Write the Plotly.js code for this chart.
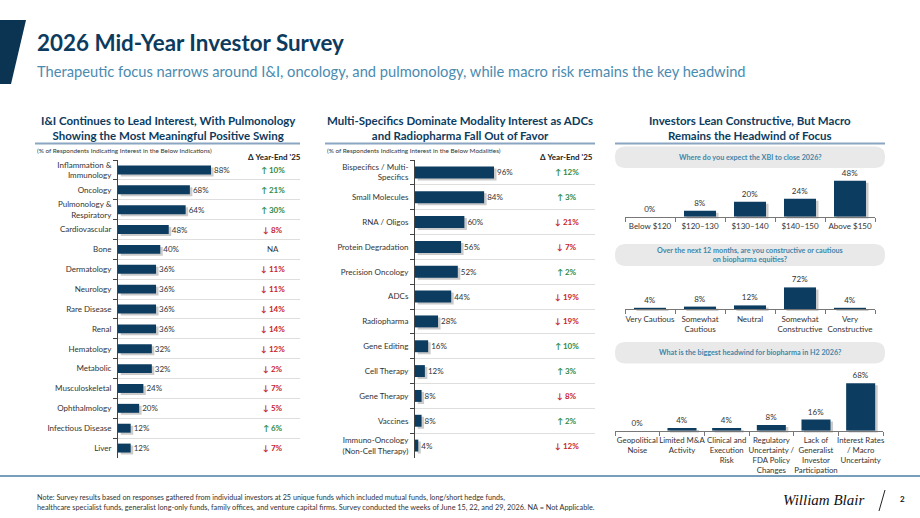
<!DOCTYPE html>
<html>
<head>
<meta charset="utf-8">
<script src="https://cdn.plot.ly/plotly-3.0.1.min.js"></script>
<style>html,body{margin:0;padding:0;background:#fff;}#chart{width:920px;height:518px;}</style>
</head>
<body>
<div id="chart"></div>
<script>
// ---------- DATA ----------
const indications = ["Inflammation &<br>Immunology","Oncology","Pulmonology &<br>Respiratory","Cardiovascular","Bone","Dermatology","Neurology","Rare Disease","Renal","Hematology","Metabolic","Musculoskeletal","Ophthalmology","Infectious Disease","Liver"];
const indicationValues = [88,68,64,48,40,36,36,36,36,32,32,24,20,12,12];
const indicationDelta = [10,21,30,-8,null,-11,-11,-14,-14,-12,-2,-7,-5,6,-7];

const modalities = ["Bispecifics / Multi-<br>Specifics","Small Molecules","RNA / Oligos","Protein Degradation","Precision Oncology","ADCs","Radiopharma","Gene Editing","Cell Therapy","Gene Therapy","Vaccines","Immuno-Oncology<br>(Non-Cell Therapy)"];
const modalityValues = [96,84,60,56,52,44,28,16,12,8,8,4];
const modalityDelta = [12,3,-21,-7,2,-19,-19,10,3,-8,2,-12];

const xbiLabels = ["Below $120","$120–130","$130–140","$140–150","Above $150"];
const xbiValues = [0,8,20,24,48];

const sentimentLabels = ["Very Cautious","Somewhat<br>Cautious","Neutral","Somewhat<br>Constructive","Very<br>Constructive"];
const sentimentValues = [4,8,12,72,4];

const headwindLabels = ["Geopolitical<br>Noise","Limited M&A<br>Activity","Clinical and<br>Execution<br>Risk","Regulatory<br>Uncertainty /<br>FDA Policy<br>Changes","Lack of<br>Generalist<br>Investor<br>Participation","Interest Rates<br>/ Macro<br>Uncertainty"];
const headwindValues = [0,4,4,8,16,68];

// ---------- HELPERS ----------
const W = 920, H = 518;
const X = px => px / W;
const Y = py => 1 - py / H;
const NAVY = "#0c3c5f", SHADOW = "rgba(140,140,140,0.45)";
const GREEN = "#2f8a45", RED = "#c8242b";
const FONT = "Lato, 'Open Sans', sans-serif";

function hbar(cats, vals, xa, ya, shadow) {
  return {type:"bar", orientation:"h", y:cats, x:vals, xaxis:xa, yaxis:ya,
    marker:{color: shadow ? SHADOW : NAVY},
    text: shadow ? undefined : vals.map(v => v + "%"),
    textposition: shadow ? "none" : "outside", constraintext:"none", cliponaxis:false,
    textfont:{size:8, color:"#333", family:FONT}, hoverinfo:"skip", showlegend:false};
}
function vbar(cats, vals, xa, ya, shadow) {
  return {type:"bar", x:cats, y:vals, xaxis:xa, yaxis:ya,
    marker:{color: shadow ? SHADOW : NAVY},
    text: shadow ? undefined : vals.map(v => v + "%"),
    textposition: shadow ? "none" : "outside", constraintext:"none", cliponaxis:false,
    textfont:{size:8, color:"#333", family:FONT}, hoverinfo:"skip", showlegend:false};
}

const data = [
  hbar(indications, indicationValues, "x", "y", true),
  hbar(modalities, modalityValues, "x2", "y2", true),
  vbar(xbiLabels, xbiValues, "x3", "y3", true),
  vbar(sentimentLabels, sentimentValues, "x4", "y4", true),
  vbar(headwindLabels, headwindValues, "x5", "y5", true),
  hbar(indications, indicationValues, "x6", "y6", false),
  hbar(modalities, modalityValues, "x7", "y7", false),
  vbar(xbiLabels, xbiValues, "x8", "y8", false),
  vbar(sentimentLabels, sentimentValues, "x9", "y9", false),
  vbar(headwindLabels, headwindValues, "x10", "y10", false)
];

function hx(x0, x1, rng, anchor){ return {domain:[X(x0), X(x1)], range:rng, anchor:anchor, showgrid:false, zeroline:false, showticklabels:false, showline:false, fixedrange:true}; }
function hy(y0, y1, anchor){ return {domain:[Y(y1), Y(y0)], type:"category", autorange:"reversed", anchor:anchor,
  showline:true, linecolor:"#444", linewidth:1, ticks:"outside", ticklen:4, tickcolor:"#444", tickson:"boundaries",
  ticklabelstandoff:4,
  showgrid:true, gridcolor:"#dedede", gridwidth:1, zeroline:false, tickfont:{size:8, color:"#333", family:FONT}, fixedrange:true}; }
function vx(x0, x1, anchor, fs){ return {domain:[X(x0), X(x1)], type:"category", anchor:anchor, tickangle:0,
  showline:true, linecolor:"#777", linewidth:1, ticks:"outside", ticklen:4, tickcolor:"#777", tickson:"boundaries",
  ticklabelstandoff:2,
  showgrid:false, zeroline:false, tickfont:{size:fs || 8, color:"#333", family:FONT}, fixedrange:true}; }
function vy(yb, yt, rng, anchor){ return {domain:[Y(yb), Y(yt)], range:rng, anchor:anchor, visible:false, fixedrange:true}; }
function sh(ax, dx){
  const c = JSON.parse(JSON.stringify(ax));
  c.domain = [c.domain[0] + dx, c.domain[1] + dx];
  c.visible = false; c.showgrid = false;
  return c;
}
function shY(ax, dy){ const c = JSON.parse(JSON.stringify(ax)); c.domain=[c.domain[0]+dy, c.domain[1]+dy]; c.visible=false; c.showgrid=false; return c; }
const sdx = 2.5 / W, sdy = -2 / H;

const x6 = hx(118, 300, [0, 172.2], "y6"), y6 = hy(160, 458, "x6");
const x7 = hx(415, 595, [0, 218.7], "y7"), y7 = hy(160, 458, "x7");
const x8 = vx(625, 875, "y8"), y8 = vy(216.7, 172, [0, 59.6], "x8");
const x9 = vx(625, 875, "y9"), y9 = vy(309, 280, [0, 96.7], "x9");
const x10 = vx(615, 883, "y10", 7.8), y10 = vy(430.7, 374, [0, 81.3], "x10");

const layout = {
  width: W, height: H, margin:{l:0, r:0, t:0, b:0},
  paper_bgcolor:"#ffffff", plot_bgcolor:"rgba(0,0,0,0)",
  font:{family:FONT, color:"#333"},
  showlegend:false,
  xaxis: Object.assign(sh(x6, sdx), {anchor:"y"}), yaxis: Object.assign(shY(y6, sdy), {anchor:"x"}),
  xaxis2: Object.assign(sh(x7, sdx), {anchor:"y2"}), yaxis2: Object.assign(shY(y7, sdy), {anchor:"x2"}),
  xaxis3: Object.assign(sh(x8, sdx), {anchor:"y3"}), yaxis3: Object.assign(shY(y8, sdy), {anchor:"x3"}),
  xaxis4: Object.assign(sh(x9, sdx), {anchor:"y4"}), yaxis4: Object.assign(shY(y9, sdy), {anchor:"x4"}),
  xaxis5: Object.assign(sh(x10, sdx), {anchor:"y5"}), yaxis5: Object.assign(shY(y10, sdy), {anchor:"x5"}),
  xaxis6:x6, yaxis6:y6, xaxis7:x7, yaxis7:y7, xaxis8:x8, yaxis8:y8, xaxis9:x9, yaxis9:y9, xaxis10:x10, yaxis10:y10,
  shapes:[], annotations:[]
};
data[0].width = 0.45; data[5].width = 0.45;
data[1].width = 0.48; data[6].width = 0.48;
[2,3,7,8].forEach(i => data[i].width = 0.64);
[4,9].forEach(i => data[i].width = 0.65);

const S = layout.shapes, A = layout.annotations;
const P = (x, y) => X(x) + "," + Y(y);
function rr(x0, y0, x1, y1, r){
  return "M" + P(x0 + r, y0) + " L" + P(x1 - r, y0) + " Q" + P(x1, y0) + " " + P(x1, y0 + r) +
    " L" + P(x1, y1 - r) + " Q" + P(x1, y1) + " " + P(x1 - r, y1) +
    " L" + P(x0 + r, y1) + " Q" + P(x0, y1) + " " + P(x0, y1 - r) +
    " L" + P(x0, y0 + r) + " Q" + P(x0, y0) + " " + P(x0 + r, y0) + " Z";
}
function line(x0, y0, x1, y1, color, w){ S.push({type:"line", xref:"paper", yref:"paper", x0:X(x0), y0:Y(y0), x1:X(x1), y1:Y(y1), line:{color:color, width:w}}); }
function txt(x, y, text, size, color, xanchor, extra){ A.push(Object.assign({xref:"paper", yref:"paper", x:X(x), y:Y(y), text:text, showarrow:false, xanchor:xanchor || "left", yanchor:"middle", font:{size:size, color:color, family:FONT}}, extra || {})); }

S.push({type:"path", xref:"paper", yref:"paper", path:"M" + P(0,20) + " L" + P(26,20) + " L" + P(11,84) + " L" + P(0,84) + " Z", fillcolor:"#0b3352", line:{width:0}});
txt(35, 42, "<b>2026 Mid-Year Investor Survey</b>", 22.4, "#0d3b5e");
txt(35, 71, "Therapeutic focus narrows around I&I, oncology, and pulmonology, while macro risk remains the key headwind", 14.7, "#4a8bb0");

txt(168, 128, "<b>I&I Continues to Lead Interest, With Pulmonology<br>Showing the Most Meaningful Positive Swing</b>", 11.5, "#0d3b5e", "center");
txt(460, 128, "<b>Multi-Specifics Dominate Modality Interest as ADCs<br>and Radiopharma Fall Out of Favor</b>", 11.5, "#0d3b5e", "center");
txt(750, 128, "<b>Investors Lean Constructive, But Macro<br>Remains the Headwind of Focus</b>", 11.5, "#0d3b5e", "center");
line(35, 143.5, 300, 143.5, "#8aa6c2", 2);
line(325, 143.5, 595, 143.5, "#8aa6c2", 2);
line(615, 143.5, 885, 143.5, "#8aa6c2", 2);

txt(35, 150, "(% of Respondents Indicating Interest in the Below Indications)", 6.4, "#333");
txt(325, 150, "(% of Respondents Indicating Interest in the Below Modalities)", 6.4, "#333");
txt(274, 156.5, "<b>Δ Year-End '25</b>", 8, "#222", "center");
txt(566, 156.5, "<b>Δ Year-End '25</b>", 8, "#222", "center");

function deltaText(v){
  if (v === null) return {t:"NA", c:"#333"};
  if (v > 0) return {t:"<b>↑ " + v + "%</b>", c:GREEN};
  return {t:"<b>↓ " + Math.abs(v) + "%</b>", c:RED};
}
indications.forEach((c, i) => { const d = deltaText(indicationDelta[i]);
  A.push({xref:"paper", yref:"y6", x:X(273), y:c, text:d.t, showarrow:false, xanchor:"center", yanchor:"middle", font:{size:8, color:d.c, family:FONT}}); });
modalities.forEach((c, i) => { const d = deltaText(modalityDelta[i]);
  A.push({xref:"paper", yref:"y7", x:X(567), y:c, text:d.t, showarrow:false, xanchor:"center", yanchor:"middle", font:{size:8, color:d.c, family:FONT}}); });

S.push({type:"path", xref:"paper", yref:"paper", path:rr(615, 146.5, 885, 168, 10.5), fillcolor:"#e9e9ea", line:{width:0}, layer:"below"});
S.push({type:"path", xref:"paper", yref:"paper", path:rr(615, 244, 885, 266, 11), fillcolor:"#e9e9ea", line:{width:0}, layer:"below"});
S.push({type:"path", xref:"paper", yref:"paper", path:rr(615, 342, 885, 363.5, 10.5), fillcolor:"#e9e9ea", line:{width:0}, layer:"below"});
txt(750, 157.3, "<b>Where do you expect the XBI to close 2026?</b>", 7.2, "#3f86a8", "center");
txt(750, 255, "<b>Over the next 12 months, are you constructive or cautious<br>on biopharma equities?</b>", 7.2, "#3f86a8", "center");
txt(750, 352.8, "<b>What is the biggest headwind for biopharma in H2 2026?</b>", 7.2, "#3f86a8", "center");

line(0, 476, 920, 476, "#4a7ea3", 1.5);
txt(35, 497, "Note: Survey results based on responses gathered from individual investors at 25 unique funds which included mutual funds, long/short hedge funds,", 7.2, "#333");
txt(35, 507.5, "healthcare specialist funds, generalist long-only funds, family offices, and venture capital firms. Survey conducted the weeks of June 15, 22, and 29, 2026. NA = Not Applicable.", 7.3, "#333");
A.push({xref:"paper", yref:"paper", x:X(866), y:Y(500), text:"<i>William Blair</i>", showarrow:false, xanchor:"right", yanchor:"middle", font:{size:15, color:"#111", family:"'Liberation Serif', 'DejaVu Serif', serif"}});
line(885, 490, 879, 511, "#222", 1);
txt(902, 499, "<b>2</b>", 8, "#111", "center");

Plotly.newPlot("chart", data, layout, {staticPlot:true, displayModeBar:false});
</script>
</body>
</html>
